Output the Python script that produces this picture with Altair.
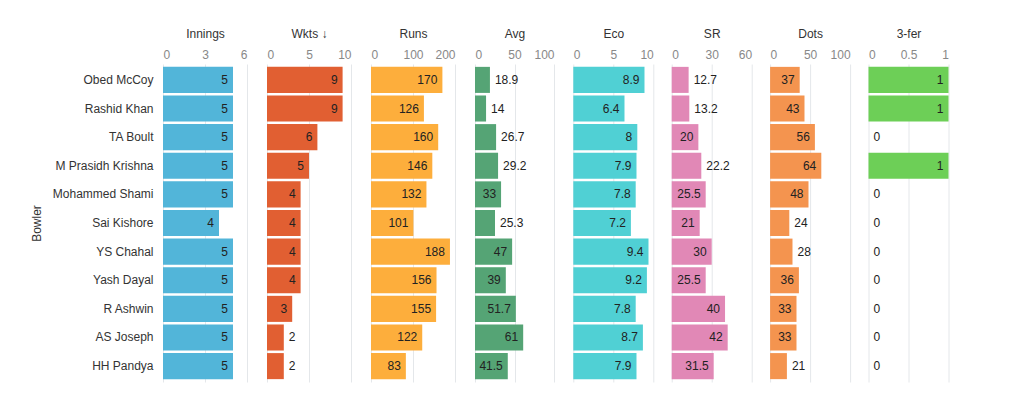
import altair as alt
import pandas as pd

bowlers = ["Obed McCoy", "Rashid Khan", "TA Boult", "M Prasidh Krishna", "Mohammed Shami",
           "Sai Kishore", "YS Chahal", "Yash Dayal", "R Ashwin", "AS Joseph", "HH Pandya"]
innings = [5, 5, 5, 5, 5, 4, 5, 5, 5, 5, 5]
wkts = [9, 9, 6, 5, 4, 4, 4, 4, 3, 2, 2]
runs = [170, 126, 160, 146, 132, 101, 188, 156, 155, 122, 83]
avg = [18.9, 14, 26.7, 29.2, 33, 25.3, 47, 39, 51.7, 61, 41.5]
eco = [8.9, 6.4, 8, 7.9, 7.8, 7.2, 9.4, 9.2, 7.8, 8.7, 7.9]
sr = [12.7, 13.2, 20, 22.2, 25.5, 21, 30, 25.5, 40, 42, 31.5]
dots = [37, 43, 56, 64, 48, 24, 28, 36, 33, 33, 21]
three_fer = [1, 1, 0, 1, 0, 0, 0, 0, 0, 0, 0]

titles = ["Innings", "Wkts ↓", "Runs", "Avg", "Eco", "SR", "Dots", "3-fer"]
series = [innings, wkts, runs, avg, eco, sr, dots, three_fer]
colors = ["#52b5d9", "#e15f32", "#fdae3c", "#55a475", "#50d0d4", "#e188b6", "#f4944f", "#6dcf57"]
domain_max = [6, 10, 200, 100, 10, 60, 100, 1]
tick_values = [[0, 3, 6], [0, 5, 10], [0, 100, 200], [0, 50, 100], [0, 5, 10], [0, 30, 60], [0, 50, 100], [0, 0.5, 1]]
widths = [84, 84, 84, 79, 80, 80, 80, 80]

FONT = "Liberation Sans"
H = 318


def fmt(v):
    s = f"{v:.1f}"
    return s[:-2] if s.endswith(".0") else s


def text_w(s):
    return sum(3 if c == "." else 6 for c in s)


def panel(i):
    vals = series[i]
    labels = [fmt(v) for v in vals]
    inside = [v / domain_max[i] * widths[i] >= text_w(l) + 11 for v, l in zip(vals, labels)]
    df = pd.DataFrame({"Bowler": bowlers, "value": vals, "label": labels, "inside": inside})
    if i == 0:
        yax = alt.Axis(title="Bowler", labelPadding=10, ticks=False, domain=False,
                       labelFontSize=12, labelColor="#333333", titleFontSize=12,
                       titleFontWeight="normal", titleColor="#333333", titlePadding=9,
                       labelFont=FONT, titleFont=FONT)
        y = alt.Y("Bowler:N", sort=bowlers, scale=alt.Scale(paddingInner=0.09, paddingOuter=0.1), axis=yax)
    else:
        y = alt.Y("Bowler:N", sort=bowlers, scale=alt.Scale(paddingInner=0.09, paddingOuter=0.1), axis=None)
    x = alt.X("value:Q", scale=alt.Scale(domain=[0, domain_max[i]], nice=False, zero=True),
              axis=alt.Axis(orient="top", values=tick_values[i], format="~r", title=titles[i],
                            labelFlush=True, ticks=False, domain=False, grid=True,
                            gridColor="#e4e7ea", labelColor="#888888", labelFontSize=12,
                            labelPadding=3, titleFontSize=12, titleFontWeight="normal",
                            titleColor="#333333", titlePadding=8, labelFont=FONT, titleFont=FONT))
    base = alt.Chart(df)
    bars = base.mark_bar(color=colors[i]).encode(x=x, y=y)
    t_in = base.transform_filter("datum.inside").mark_text(
        align="right", baseline="middle", dx=-5, font=FONT, fontSize=12, color="#222222"
    ).encode(x=x, y=y, text="label:N")
    t_out = base.transform_filter("!datum.inside").mark_text(
        align="left", baseline="middle", dx=5, font=FONT, fontSize=12, color="#222222"
    ).encode(x=x, y=y, text="label:N")
    return alt.layer(bars, t_in, t_out).properties(width=widths[i], height=H)


panels = [panel(i) for i in range(8)]
left = alt.hconcat(*panels[:4], spacing=20)
right = alt.hconcat(*panels[4:], spacing=18.4)
chart = alt.hconcat(left, right, spacing=19.3).properties(
    padding={"left": 22, "top": 19, "right": 5, "bottom": 5}
).configure_view(stroke=None).configure_concat(spacing=20)

chart.save("out.html", embed_options={"renderer": "svg", "actions": False})
